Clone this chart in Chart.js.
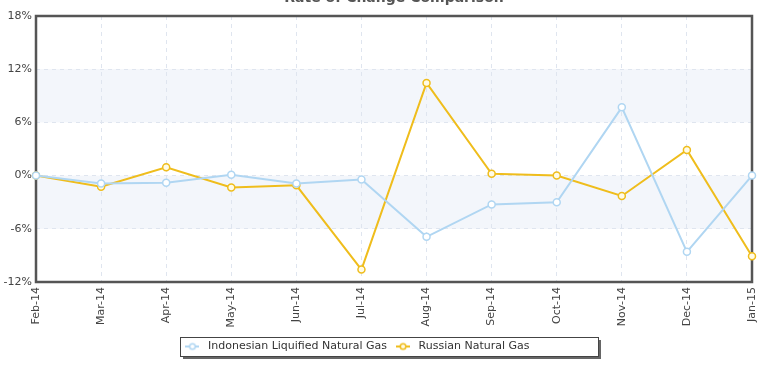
<!DOCTYPE html>
<html>
<head>
<meta charset="utf-8">
<script src="https://cdn.jsdelivr.net/npm/chart.js@4"></script>
<style>
  html, body { margin: 0; padding: 0; background: #fff; }
  #wrap { width: 766px; height: 365px; }
</style>
</head>
<body>
<div id="wrap"><canvas id="rateChart"></canvas></div>
<script>
var months = ["Feb-14", "Mar-14", "Apr-14", "May-14", "Jun-14", "Jul-14",
              "Aug-14", "Sep-14", "Oct-14", "Nov-14", "Dec-14", "Jan-15"];
var indonesianLng = [0, -0.9, -0.8, 0.1, -0.9, -0.45, -6.9, -3.25, -3.0, 7.7, -8.6, 0];
var russianGas = [0, -1.25, 0.95, -1.35, -1.1, -10.6, 10.45, 0.2, 0, -2.3, 2.9, -9.1];
var yTicks = [-12, -6, 0, 6, 12, 18];
var bands = [[6, 12], [-6, 0]];

var blue = "#b0d6f2", gold = "#efbd1c";

function legendMarker(color, fill) {
  var c = document.createElement("canvas");
  c.width = 14; c.height = 10;
  var g = c.getContext("2d");
  g.strokeStyle = color; g.lineWidth = 2;
  g.beginPath(); g.moveTo(0, 5); g.lineTo(14, 5); g.stroke();
  g.beginPath(); g.arc(7, 5, 2.8, 0, Math.PI * 2);
  g.fillStyle = fill; g.fill(); g.lineWidth = 1.5; g.stroke();
  return c;
}
var markers = [legendMarker(blue, "#ffffff"), legendMarker(gold, "#fffbe6")];

var decor = {
  id: "decor",
  afterLayout: function(chart) {
    // legend sits a bit left of the canvas centre
    var lg = chart.legend, dx = -20;
    lg.left += dx; lg.right += dx;
    lg.legendHitBoxes.forEach(function(h) { h.left += dx; });
  },
  beforeDraw: function(chart) {
    var ctx = chart.ctx, a = chart.chartArea, y = chart.scales.y;
    ctx.save();
    ctx.fillStyle = "#f3f6fb";
    bands.forEach(function(b) {
      var t = y.getPixelForValue(b[1]), bt = y.getPixelForValue(b[0]);
      ctx.fillRect(a.left, t, a.right - a.left, bt - t);
    });
    // legend box with shadow
    var lg = chart.legend;
    if (lg && lg.legendHitBoxes.length) {
      var hb = lg.legendHitBoxes, first = hb[0], last = hb[hb.length - 1];
      var x0 = Math.round(first.left - 2.5), x1 = Math.round(last.left + last.width + 68);
      var yc = first.top + first.height / 2;
      var y0 = Math.round(yc - 10), y1 = Math.round(yc + 9);
      ctx.fillStyle = "#666";
      ctx.fillRect(x0 + 3, y0 + 3, x1 - x0, y1 - y0);
      ctx.fillStyle = "#fff";
      ctx.fillRect(x0, y0, x1 - x0, y1 - y0);
      ctx.strokeStyle = "#444"; ctx.lineWidth = 1;
      ctx.strokeRect(x0 + 0.5, y0 + 0.5, x1 - x0, y1 - y0);
    }
    // title, clipped by top of canvas
    ctx.fillStyle = "#555";
    ctx.font = "bold 14px 'DejaVu Sans'";
    ctx.textAlign = "center";
    ctx.textBaseline = "alphabetic";
    ctx.fillText("Rate of Change Comparison", (a.left + a.right) / 2, 2);
    ctx.restore();
  },
  beforeDatasetsDraw: function(chart) {
    var ctx = chart.ctx, a = chart.chartArea;
    ctx.save();
    ctx.strokeStyle = "#555"; ctx.lineWidth = 2.5;
    ctx.strokeRect(a.left, a.top, a.right - a.left, a.bottom - a.top);
    ctx.restore();
  }
};

new Chart(document.getElementById("rateChart"), {
  type: "line",
  data: {
    labels: months,
    datasets: [{
      label: "Indonesian Liquified Natural Gas",
      data: indonesianLng,
      borderColor: blue,
      backgroundColor: "#ffffff",
      borderWidth: 2,
      pointRadius: 3.5,
      pointBorderWidth: 1.5,
      pointBackgroundColor: "#ffffff",
      tension: 0
    }, {
      label: "Russian Natural Gas",
      data: russianGas,
      borderColor: gold,
      backgroundColor: "#fffbe6",
      borderWidth: 2,
      pointRadius: 3.5,
      pointBorderWidth: 1.5,
      pointBackgroundColor: "#fffbe6",
      tension: 0
    }]
  },
  plugins: [decor],
  options: {
    responsive: true,
    maintainAspectRatio: false,
    animation: false,
    layout: { padding: { left: 0, right: 14, top: 16, bottom: 3 } },
    plugins: {
      title: { display: false },
      tooltip: { enabled: false },
      legend: {
        position: "bottom",
        labels: {
          usePointStyle: true,
          pointStyleWidth: 20,
          padding: 6,
          color: "#333",
          font: { family: "'DejaVu Sans'", size: 11 },
          generateLabels: function(chart) {
            var items = Chart.defaults.plugins.legend.labels.generateLabels(chart);
            items.forEach(function(it, i) { it.pointStyle = markers[i]; });
            return items;
          }
        }
      }
    },
    scales: {
      x: {
        offset: false,
        afterFit: function(s) {
          s.height = 53;
          s.paddingLeft = 0;
          s.paddingRight = 0;
        },
        grid: { color: "#dfe5ef", tickLength: 0, drawTicks: false },
        border: { display: false, dash: [4, 4] },
        ticks: {
          minRotation: 90, maxRotation: 90, padding: 5,
          color: "#444",
          font: { family: "'DejaVu Sans'", size: 11 }
        }
      },
      y: {
        min: -12, max: 18,
        afterFit: function(s) { s.width = 36; },
        afterBuildTicks: function(s) {
          s.ticks = yTicks.map(function(v) { return { value: v }; });
        },
        grid: { color: "#dfe5ef", drawTicks: false },
        border: { display: false, dash: [4, 4] },
        ticks: {
          padding: 4,
          color: "#444",
          font: { family: "'DejaVu Sans'", size: 11 },
          callback: function(v) { return v + "%"; }
        }
      }
    }
  }
});
</script>
</body>
</html>
